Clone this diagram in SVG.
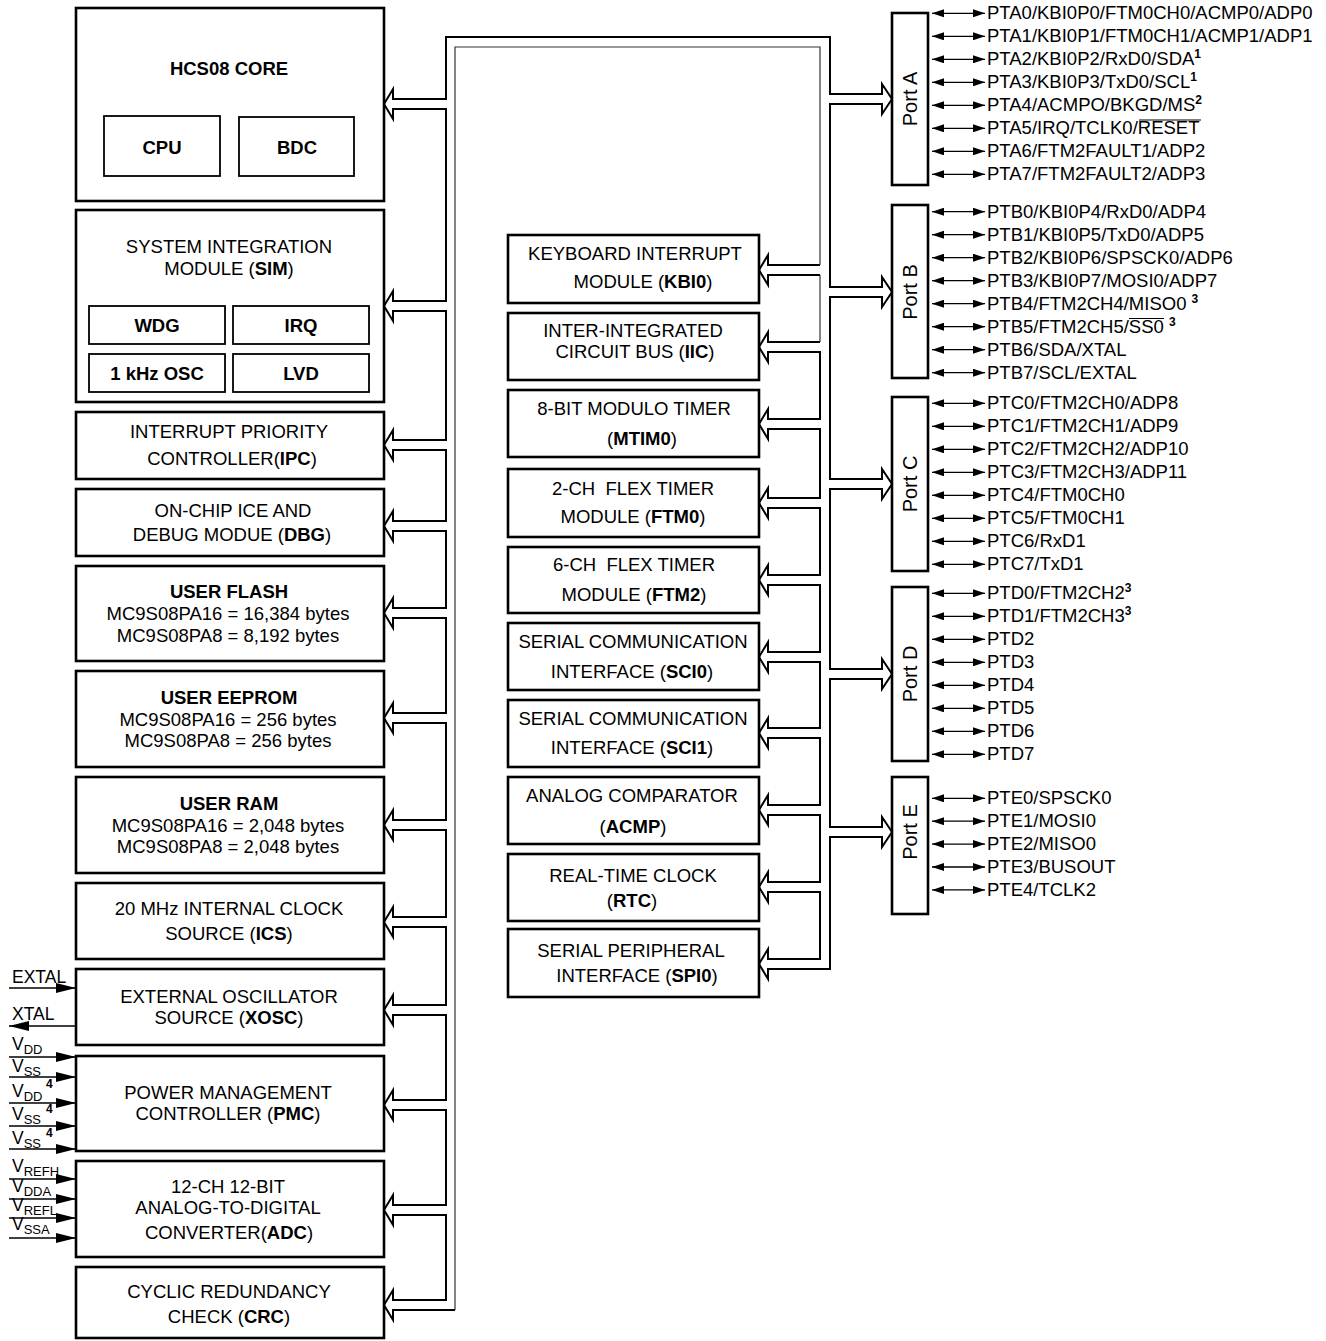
<svg xmlns="http://www.w3.org/2000/svg" width="1326" height="1341" viewBox="0 0 1326 1341">
<style>
.t{font-family:"Liberation Sans",Arial,Helvetica,sans-serif;font-size:18.5px;fill:#000}
.m{text-anchor:middle}
.b{font-weight:bold}
.box{fill:#fff;stroke:#000;stroke-width:2.6}
.sbox{fill:none;stroke:#000;stroke-width:1.8}
.bus{fill:none;stroke:#000;stroke-width:2;stroke-linejoin:miter}
.busthin{fill:none;stroke:#333;stroke-width:1.2}
.pin{stroke:#000;stroke-width:1.3;marker-start:url(#ah);marker-end:url(#ah)}
.sig{stroke:#000;stroke-width:1.6;marker-end:url(#sh)}
.ov{stroke:#000;stroke-width:1.2}
.v{font-family:"Liberation Sans",Arial,Helvetica,sans-serif;font-size:17.5px}
.sub{font-size:13px}
.sup{font-size:12px;font-weight:bold}
.port{font-family:"Liberation Sans",Arial,Helvetica,sans-serif;font-size:20px;text-anchor:middle}
</style>
<defs>
<marker id="ah" viewBox="0 0 12 8" refX="12" refY="4" markerWidth="12" markerHeight="8" markerUnits="userSpaceOnUse" orient="auto-start-reverse"><path d="M0,0 L12,4 L0,8 Z" fill="#000"/></marker>
<marker id="sh" viewBox="0 0 20 10" refX="20" refY="5" markerWidth="20" markerHeight="10" markerUnits="userSpaceOnUse" orient="auto"><path d="M0,0 L20,5 L0,10 Z" fill="#000"/></marker>
</defs>
<rect width="1326" height="1341" fill="#fff"/>

<g id="hcs08">
<rect class="box" x="76" y="8" width="308" height="193"/>
<text class="t m b" x="229" y="75">HCS08 CORE</text>
<rect class="sbox" x="104" y="116" width="116" height="60"/>
<text class="t m b" x="162" y="154">CPU</text>
<rect class="sbox" x="239" y="117" width="115" height="59"/>
<text class="t m b" x="297" y="154">BDC</text>
</g>
<g id="sim">
<rect class="box" x="76" y="210" width="308" height="192"/>
<text class="t m" x="229" y="253">SYSTEM INTEGRATION</text>
<text class="t m" x="229" y="275">MODULE (<tspan class="b">SIM</tspan>)</text>
<rect class="sbox" x="89" y="306" width="136" height="38"/>
<text class="t m b" x="157" y="332">WDG</text>
<rect class="sbox" x="233" y="306" width="136" height="38"/>
<text class="t m b" x="301" y="332">IRQ</text>
<rect class="sbox" x="89" y="354" width="136" height="38"/>
<text class="t m b" x="157" y="380">1 kHz OSC</text>
<rect class="sbox" x="233" y="354" width="136" height="38"/>
<text class="t m b" x="301" y="380">LVD</text>
</g>
<g id="ipc">
<rect class="box" x="76" y="412" width="308" height="67"/>
<text class="t m" x="229" y="438">INTERRUPT PRIORITY</text>
<text class="t m" x="232" y="465">CONTROLLER(<tspan class="b">IPC</tspan>)</text>
</g>
<g id="dbg">
<rect class="box" x="76" y="489" width="308" height="67"/>
<text class="t m" x="233" y="517">ON-CHIP ICE AND</text>
<text class="t m" x="232" y="541">DEBUG MODUE (<tspan class="b">DBG</tspan>)</text>
</g>
<g id="flash">
<rect class="box" x="76" y="566" width="308" height="95"/>
<text class="t m b" x="229" y="598">USER FLASH</text>
<text class="t m" x="228" y="620">MC9S08PA16 = 16,384 bytes</text>
<text class="t m" x="228" y="642">MC9S08PA8 = 8,192 bytes</text>
</g>
<g id="eeprom">
<rect class="box" x="76" y="671" width="308" height="96"/>
<text class="t m b" x="229" y="704">USER EEPROM</text>
<text class="t m" x="228" y="726">MC9S08PA16 = 256 bytes</text>
<text class="t m" x="228" y="747">MC9S08PA8 = 256 bytes</text>
</g>
<g id="ram">
<rect class="box" x="76" y="777" width="308" height="96"/>
<text class="t m b" x="229" y="810">USER RAM</text>
<text class="t m" x="228" y="832">MC9S08PA16 = 2,048 bytes</text>
<text class="t m" x="228" y="853">MC9S08PA8 = 2,048 bytes</text>
</g>
<g id="ics">
<rect class="box" x="76" y="883" width="308" height="76"/>
<text class="t m" x="229" y="915">20 MHz INTERNAL CLOCK</text>
<text class="t m" x="229" y="940">SOURCE (<tspan class="b">ICS</tspan>)</text>
</g>
<g id="xosc">
<rect class="box" x="76" y="969" width="308" height="76"/>
<text class="t m" x="229" y="1003">EXTERNAL OSCILLATOR</text>
<text class="t m" x="229" y="1024">SOURCE (<tspan class="b">XOSC</tspan>)</text>
</g>
<g id="pmc">
<rect class="box" x="76" y="1056" width="308" height="95"/>
<text class="t m" x="228" y="1099">POWER MANAGEMENT</text>
<text class="t m" x="228" y="1120">CONTROLLER (<tspan class="b">PMC</tspan>)</text>
</g>
<g id="adc">
<rect class="box" x="76" y="1161" width="308" height="96"/>
<text class="t m" x="228" y="1193">12-CH 12-BIT</text>
<text class="t m" x="228" y="1214">ANALOG-TO-DIGITAL</text>
<text class="t m" x="229" y="1239">CONVERTER(<tspan class="b">ADC</tspan>)</text>
</g>
<g id="crc">
<rect class="box" x="76" y="1267" width="308" height="71"/>
<text class="t m" x="229" y="1298">CYCLIC REDUNDANCY</text>
<text class="t m" x="229" y="1323">CHECK (<tspan class="b">CRC</tspan>)</text>
</g>

<g id="kbi">
<rect class="box" x="508" y="235" width="251" height="68"/>
<text class="t m" x="635" y="260">KEYBOARD INTERRUPT</text>
<text class="t m" x="643" y="288">MODULE (<tspan class="b">KBI0</tspan>)</text>
</g>
<g id="iic">
<rect class="box" x="508" y="313" width="251" height="67"/>
<text class="t m" x="633" y="337">INTER-INTEGRATED</text>
<text class="t m" x="635" y="358">CIRCUIT BUS (<tspan class="b">IIC</tspan>)</text>
</g>
<g id="mtim">
<rect class="box" x="508" y="390" width="251" height="67"/>
<text class="t m" x="634" y="415">8-BIT MODULO TIMER</text>
<text class="t m" x="642" y="445">(<tspan class="b">MTIM0</tspan>)</text>
</g>
<g id="ftm0">
<rect class="box" x="508" y="469" width="251" height="68"/>
<text class="t m" x="633" y="495" xml:space="preserve">2-CH  FLEX TIMER</text>
<text class="t m" x="633" y="523">MODULE (<tspan class="b">FTM0</tspan>)</text>
</g>
<g id="ftm2">
<rect class="box" x="508" y="547" width="251" height="66"/>
<text class="t m" x="634" y="571" xml:space="preserve">6-CH  FLEX TIMER</text>
<text class="t m" x="634" y="601">MODULE (<tspan class="b">FTM2</tspan>)</text>
</g>
<g id="sci0">
<rect class="box" x="508" y="623" width="251" height="67"/>
<text class="t m" x="633" y="648">SERIAL COMMUNICATION</text>
<text class="t m" x="632" y="678">INTERFACE (<tspan class="b">SCI0</tspan>)</text>
</g>
<g id="sci1">
<rect class="box" x="508" y="700" width="251" height="67"/>
<text class="t m" x="633" y="725">SERIAL COMMUNICATION</text>
<text class="t m" x="632" y="754">INTERFACE (<tspan class="b">SCI1</tspan>)</text>
</g>
<g id="acmp">
<rect class="box" x="508" y="777" width="251" height="67"/>
<text class="t m" x="632" y="802">ANALOG COMPARATOR</text>
<text class="t m" x="633" y="833">(<tspan class="b">ACMP</tspan>)</text>
</g>
<g id="rtc">
<rect class="box" x="508" y="854" width="251" height="67"/>
<text class="t m" x="633" y="882">REAL-TIME CLOCK</text>
<text class="t m" x="632" y="907">(<tspan class="b">RTC</tspan>)</text>
</g>
<g id="spi">
<rect class="box" x="508" y="929" width="251" height="68"/>
<text class="t m" x="631" y="957">SERIAL PERIPHERAL</text>
<text class="t m" x="637" y="982">INTERFACE (<tspan class="b">SPI0</tspan>)</text>
</g>

<g id="portA">
<rect class="box" x="892" y="13" width="36" height="172"/>
<text class="port" transform="translate(917,99) rotate(-90)">Port A</text>
</g>
<g id="portB">
<rect class="box" x="892" y="205" width="36" height="173"/>
<text class="port" transform="translate(917,292) rotate(-90)">Port B</text>
</g>
<g id="portC">
<rect class="box" x="892" y="397" width="36" height="174"/>
<text class="port" transform="translate(917,484) rotate(-90)">Port C</text>
</g>
<g id="portD">
<rect class="box" x="892" y="587" width="36" height="174"/>
<text class="port" transform="translate(917,674) rotate(-90)">Port D</text>
</g>
<g id="portE">
<rect class="box" x="892" y="777" width="36" height="137"/>
<text class="port" transform="translate(917,832) rotate(-90)">Port E</text>
</g>

<g id="connectors">
<path class="bus" d="M455,1310 L393,1310 L393,1320 L384,1305 L393,1290 L393,1300 L446,1300
L446,1215 L393,1215 L393,1225 L384,1210 L393,1195 L393,1205 L446,1205
L446,1110 L393,1110 L393,1120 L384,1105 L393,1090 L393,1100 L446,1100
L446,1015 L393,1015 L393,1025 L384,1010 L393,995 L393,1005 L446,1005
L446,927 L393,927 L393,937 L384,922 L393,907 L393,917 L446,917
L446,830 L393,830 L393,840 L384,825 L393,810 L393,820 L446,820
L446,723 L393,723 L393,733 L384,718 L393,703 L393,713 L446,713
L446,618 L393,618 L393,628 L384,613 L393,598 L393,608 L446,608
L446,531 L393,531 L393,541 L384,526 L393,511 L393,521 L446,521
L446,450 L393,450 L393,460 L384,445 L393,430 L393,440 L446,440
L446,311 L393,311 L393,321 L384,306 L393,291 L393,301 L446,301
L446,109 L393,109 L393,119 L384,104 L393,89 L393,99 L446,99
L446,37 L830,37
L830,94 L882,94 L882,84 L892,99 L882,114 L882,104 L830,104
L830,287 L882,287 L882,277 L892,292 L882,307 L882,297 L830,297
L830,479 L882,479 L882,469 L892,484 L882,499 L882,489 L830,489
L830,669 L882,669 L882,659 L892,674 L882,689 L882,679 L830,679
L830,827 L882,827 L882,817 L892,832 L882,847 L882,837 L830,837
L830,969
L768,969 L768,979 L759,964 L768,949 L768,959 L820,959
L820,892 L768,892 L768,902 L759,887 L768,872 L768,882 L820,882
L820,815 L768,815 L768,825 L759,810 L768,795 L768,805 L820,805
L820,738 L768,738 L768,748 L759,733 L768,718 L768,728 L820,728
L820,662 L768,662 L768,672 L759,657 L768,642 L768,652 L820,652
L820,585 L768,585 L768,595 L759,580 L768,565 L768,575 L820,575
L820,508 L768,508 L768,518 L759,503 L768,488 L768,498 L820,498
L820,429 L768,429 L768,439 L759,424 L768,409 L768,419 L820,419
L820,352 L768,352 L768,362 L759,347 L768,332 L768,342 L820,342"/>
<path class="busthin" d="M820,342 L820,275"/>
<path class="bus" d="M820,275 L768,275 L768,285 L759,270 L768,255 L768,265 L820,265"/>
<path class="busthin" d="M820,265 L820,47 L455,47 L455,1310"/>

<line class="pin" x1="932" y1="13.3" x2="985" y2="13.3"/>
<line class="pin" x1="932" y1="36.3" x2="985" y2="36.3"/>
<line class="pin" x1="932" y1="59.3" x2="985" y2="59.3"/>
<line class="pin" x1="932" y1="82.3" x2="985" y2="82.3"/>
<line class="pin" x1="932" y1="105.3" x2="985" y2="105.3"/>
<line class="pin" x1="932" y1="128.3" x2="985" y2="128.3"/>
<line class="pin" x1="932" y1="151.3" x2="985" y2="151.3"/>
<line class="pin" x1="932" y1="174.3" x2="985" y2="174.3"/>

<line class="pin" x1="932" y1="211.7" x2="985" y2="211.7"/>
<line class="pin" x1="932" y1="234.7" x2="985" y2="234.7"/>
<line class="pin" x1="932" y1="257.7" x2="985" y2="257.7"/>
<line class="pin" x1="932" y1="280.7" x2="985" y2="280.7"/>
<line class="pin" x1="932" y1="303.7" x2="985" y2="303.7"/>
<line class="pin" x1="932" y1="326.7" x2="985" y2="326.7"/>
<line class="pin" x1="932" y1="349.7" x2="985" y2="349.7"/>
<line class="pin" x1="932" y1="372.7" x2="985" y2="372.7"/>

<line class="pin" x1="932" y1="403.3" x2="985" y2="403.3"/>
<line class="pin" x1="932" y1="426.3" x2="985" y2="426.3"/>
<line class="pin" x1="932" y1="449.3" x2="985" y2="449.3"/>
<line class="pin" x1="932" y1="472.3" x2="985" y2="472.3"/>
<line class="pin" x1="932" y1="495.3" x2="985" y2="495.3"/>
<line class="pin" x1="932" y1="518.3" x2="985" y2="518.3"/>
<line class="pin" x1="932" y1="541.3" x2="985" y2="541.3"/>
<line class="pin" x1="932" y1="564.3" x2="985" y2="564.3"/>

<line class="pin" x1="932" y1="593.3" x2="985" y2="593.3"/>
<line class="pin" x1="932" y1="616.3" x2="985" y2="616.3"/>
<line class="pin" x1="932" y1="639.3" x2="985" y2="639.3"/>
<line class="pin" x1="932" y1="662.3" x2="985" y2="662.3"/>
<line class="pin" x1="932" y1="685.3" x2="985" y2="685.3"/>
<line class="pin" x1="932" y1="708.3" x2="985" y2="708.3"/>
<line class="pin" x1="932" y1="731.3" x2="985" y2="731.3"/>
<line class="pin" x1="932" y1="754.3" x2="985" y2="754.3"/>

<line class="pin" x1="932" y1="798.3" x2="985" y2="798.3"/>
<line class="pin" x1="932" y1="821.2" x2="985" y2="821.2"/>
<line class="pin" x1="932" y1="844.1" x2="985" y2="844.1"/>
<line class="pin" x1="932" y1="867" x2="985" y2="867"/>
<line class="pin" x1="932" y1="889.9" x2="985" y2="889.9"/>

<line class="sig" x1="9" y1="988" x2="76" y2="988"/>
<line class="sig" x1="76" y1="1026" x2="9" y2="1026"/>
<line class="sig" x1="9" y1="1057" x2="76" y2="1057"/>
<line class="sig" x1="9" y1="1077" x2="76" y2="1077"/>
<line class="sig" x1="9" y1="1103" x2="76" y2="1103"/>
<line class="sig" x1="9" y1="1126" x2="76" y2="1126"/>
<line class="sig" x1="9" y1="1149" x2="76" y2="1149"/>
<line class="sig" x1="9" y1="1179" x2="76" y2="1179"/>
<line class="sig" x1="9" y1="1199" x2="76" y2="1199"/>
<line class="sig" x1="9" y1="1218" x2="76" y2="1218"/>
<line class="sig" x1="9" y1="1238" x2="76" y2="1238"/>
</g>

<g id="pin-labels">
<text class="t" x="987" y="19.3">PTA0/KBI0P0/FTM0CH0/ACMP0/ADP0</text>
<text class="t" x="987" y="42.3">PTA1/KBI0P1/FTM0CH1/ACMP1/ADP1</text>
<text class="t" x="987" y="65.3">PTA2/KBI0P2/RxD0/SDA<tspan class="sup" dy="-7">1</tspan></text>
<text class="t" x="987" y="88.3">PTA3/KBI0P3/TxD0/SCL<tspan class="sup" dy="-7">1</tspan></text>
<text class="t" x="987" y="111.3">PTA4/ACMPO/BKGD/MS<tspan class="sup" dy="-7">2</tspan></text>
<text class="t" x="987" y="134.3">PTA5/IRQ/TCLK0/RESET</text>
<line class="ov" x1="1139" y1="120" x2="1201" y2="120"/>
<text class="t" x="987" y="157.3">PTA6/FTM2FAULT1/ADP2</text>
<text class="t" x="987" y="180.3">PTA7/FTM2FAULT2/ADP3</text>

<text class="t" x="987" y="217.7">PTB0/KBI0P4/RxD0/ADP4</text>
<text class="t" x="987" y="240.7">PTB1/KBI0P5/TxD0/ADP5</text>
<text class="t" x="987" y="263.7">PTB2/KBI0P6/SPSCK0/ADP6</text>
<text class="t" x="987" y="286.7">PTB3/KBI0P7/MOSI0/ADP7</text>
<text class="t" x="987" y="309.7">PTB4/FTM2CH4/MISO0 <tspan class="sup" dy="-7">3</tspan></text>
<text class="t" x="987" y="332.7">PTB5/FTM2CH5/SS0 <tspan class="sup" dy="-7">3</tspan></text>
<line class="ov" x1="1129" y1="318.5" x2="1164" y2="318.5"/>
<text class="t" x="987" y="355.7">PTB6/SDA/XTAL</text>
<text class="t" x="987" y="378.7">PTB7/SCL/EXTAL</text>

<text class="t" x="987" y="409.3">PTC0/FTM2CH0/ADP8</text>
<text class="t" x="987" y="432.3">PTC1/FTM2CH1/ADP9</text>
<text class="t" x="987" y="455.3">PTC2/FTM2CH2/ADP10</text>
<text class="t" x="987" y="478.3">PTC3/FTM2CH3/ADP11</text>
<text class="t" x="987" y="501.3">PTC4/FTM0CH0</text>
<text class="t" x="987" y="524.3">PTC5/FTM0CH1</text>
<text class="t" x="987" y="547.3">PTC6/RxD1</text>
<text class="t" x="987" y="570.3">PTC7/TxD1</text>

<text class="t" x="987" y="599.3">PTD0/FTM2CH2<tspan class="sup" dy="-7">3</tspan></text>
<text class="t" x="987" y="622.3">PTD1/FTM2CH3<tspan class="sup" dy="-7">3</tspan></text>
<text class="t" x="987" y="645.3">PTD2</text>
<text class="t" x="987" y="668.3">PTD3</text>
<text class="t" x="987" y="691.3">PTD4</text>
<text class="t" x="987" y="714.3">PTD5</text>
<text class="t" x="987" y="737.3">PTD6</text>
<text class="t" x="987" y="760.3">PTD7</text>

<text class="t" x="987" y="804.3">PTE0/SPSCK0</text>
<text class="t" x="987" y="827.2">PTE1/MOSI0</text>
<text class="t" x="987" y="850.1">PTE2/MISO0</text>
<text class="t" x="987" y="873">PTE3/BUSOUT</text>
<text class="t" x="987" y="895.9">PTE4/TCLK2</text>
</g>

<g id="signal-labels">
<text class="v" x="12" y="983">EXTAL</text>
<text class="v" x="12" y="1020">XTAL</text>
<text class="v" x="12" y="1050">V<tspan class="sub" dy="4">DD</tspan></text>
<text class="v" x="12" y="1072">V<tspan class="sub" dy="4">SS</tspan></text>
<text class="v" x="12" y="1097">V<tspan class="sub" dy="4">DD</tspan><tspan class="sup" x="46" y="1088">4</tspan></text>
<text class="v" x="12" y="1120">V<tspan class="sub" dy="4">SS</tspan><tspan class="sup" x="46" y="1113">4</tspan></text>
<text class="v" x="12" y="1144">V<tspan class="sub" dy="4">SS</tspan><tspan class="sup" x="46" y="1137">4</tspan></text>
<text class="v" x="12" y="1172">V<tspan class="sub" dy="4">REFH</tspan></text>
<text class="v" x="12" y="1192">V<tspan class="sub" dy="4">DDA</tspan></text>
<text class="v" x="12" y="1211">V<tspan class="sub" dy="4">REFL</tspan></text>
<text class="v" x="12" y="1230">V<tspan class="sub" dy="4">SSA</tspan></text>
</g>
</svg>
